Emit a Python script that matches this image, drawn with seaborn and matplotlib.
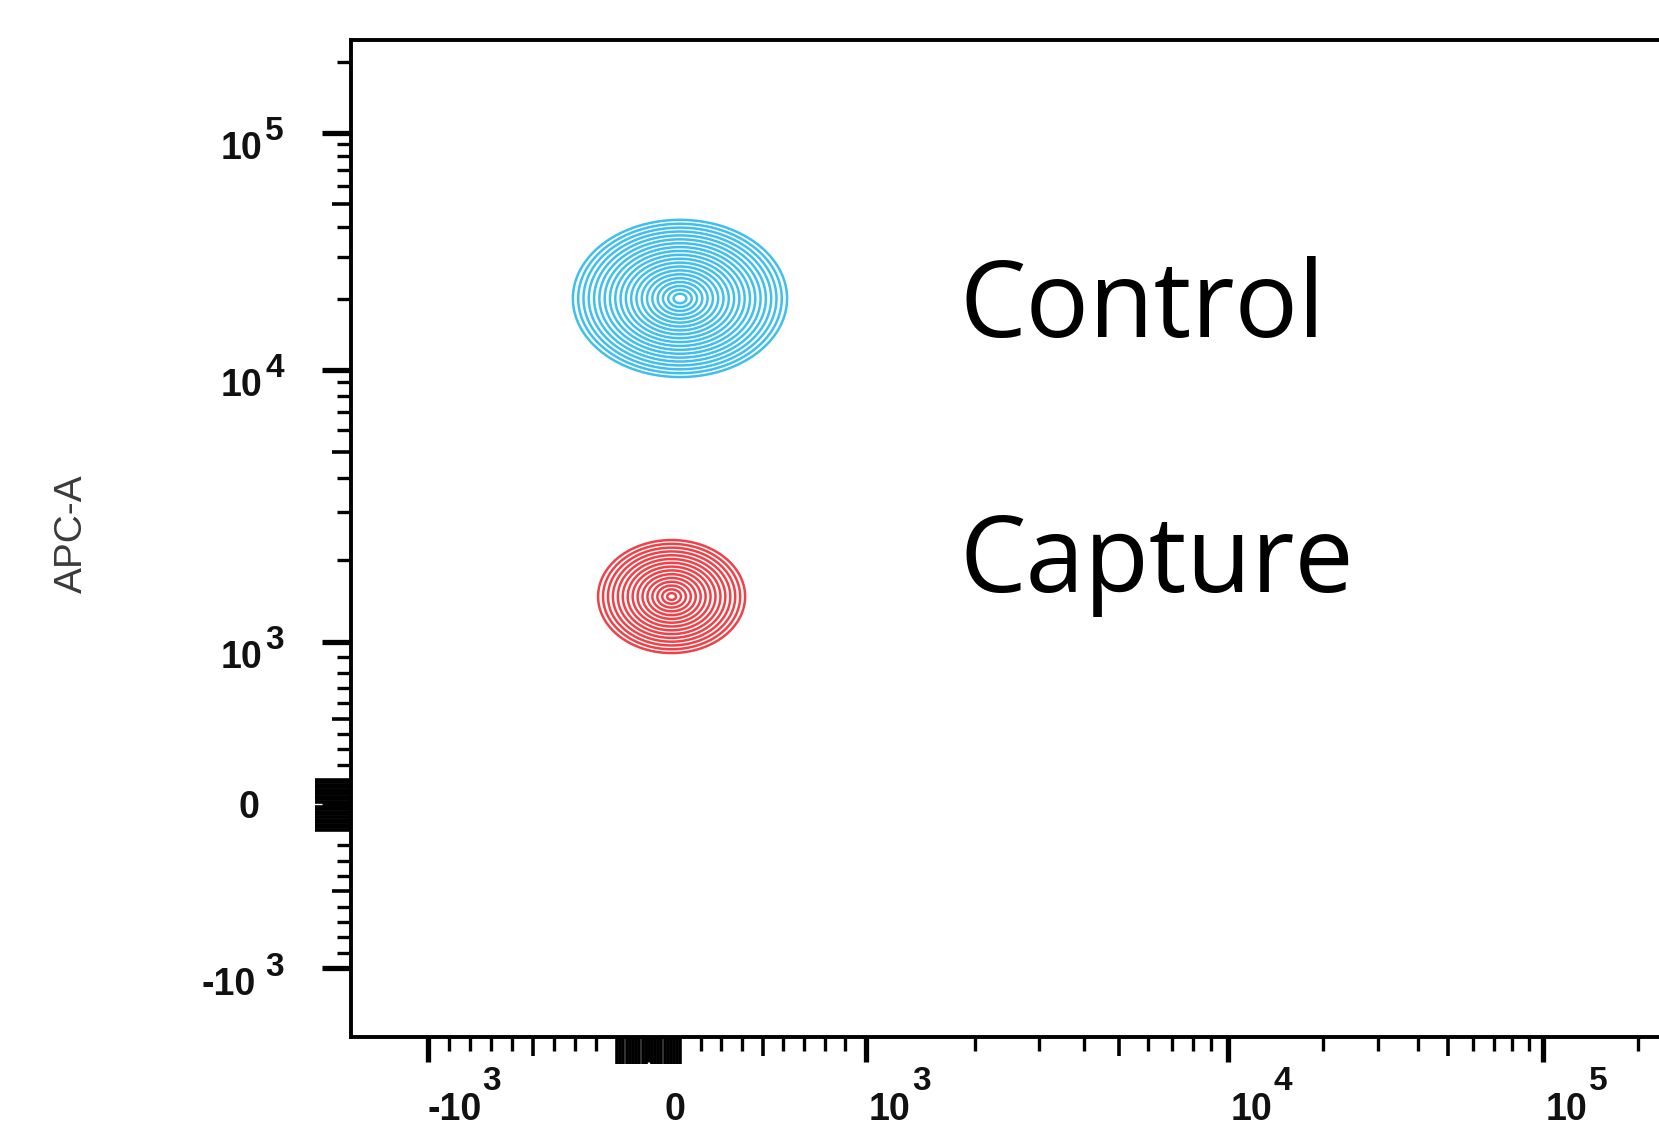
import numpy as np
import matplotlib
matplotlib.use("Agg")
import matplotlib.pyplot as plt
import matplotlib.transforms as mtransforms
import seaborn as sns
from matplotlib.ticker import FixedLocator, NullFormatter

# ---------------- data ----------------
populations = ["Control", "Capture"]
pop_x_range = [(-310, 618), (-190, 415)]        # x extent of outer contour
pop_y_range = [(9420, 43000), (928, 2370)]      # APC-A extent of outer contour
pop_colors = ["#40BFEC", "#EF4248"]
pop_n_levels = [20, 15]

x_major_values = [-1e3, 0, 1e3, 1e4, 1e5]
x_major_bases = ["-10", "0", "10", "10", "10"]
x_major_exps = ["3", "", "3", "4", "5"]
y_major_values = [-1e3, 0, 1e3, 1e4, 1e5]
y_major_bases = ["-10", "0", "10", "10", "10"]
y_major_exps = ["3", "", "3", "4", "5"]
y_label = "APC-A"

# ---------------- biexponential-like display scale ----------------
# piecewise: linear for |v| <= 1000 (slightly widened round zero), log beyond
ANCHOR_VALUES = np.array([-1e3, -100, 0, 100, 1e3, 1e4, 1e5])
X_ANCHOR_POS = np.array([428, 617, 649, 680, 866, 1228, 1543], float)   # fig px from left
Y_ANCHOR_POS = np.array([168, 306, 332, 356, 494, 766, 1003], float)    # fig px from bottom
LIN = 1000.0


def _u(v):
    v = np.asarray(v, float)
    a = np.abs(v)
    return np.where(a <= LIN, v / LIN,
                    np.sign(v) * (1 + np.log10(np.maximum(a, LIN) / LIN)))


def _v(u):
    u = np.asarray(u, float)
    a = np.abs(u)
    return np.where(a <= 1, u * LIN, np.sign(u) * LIN * 10 ** (np.maximum(a, 1) - 1))


ANCHOR_U = _u(ANCHOR_VALUES)


def _interp_ext(x, xp, fp):
    x = np.asarray(x, float)
    y = np.interp(x, xp, fp)
    lo_s = (fp[1] - fp[0]) / (xp[1] - xp[0])
    hi_s = (fp[-1] - fp[-2]) / (xp[-1] - xp[-2])
    y = np.where(x < xp[0], fp[0] + (x - xp[0]) * lo_s, y)
    y = np.where(x > xp[-1], fp[-1] + (x - xp[-1]) * hi_s, y)
    return y


def xf(v):
    return _interp_ext(_u(v), ANCHOR_U, X_ANCHOR_POS)


def xi(p):
    return _v(_interp_ext(p, X_ANCHOR_POS, ANCHOR_U))


def yf(v):
    return _interp_ext(_u(v), ANCHOR_U, Y_ANCHOR_POS)


def yi(p):
    return _v(_interp_ext(p, Y_ANCHOR_POS, ANCHOR_U))


# ---------------- style ----------------
sns.set_theme(style="white")
plt.rcParams["font.family"] = ["Liberation Sans", "DejaVu Sans"]

FW, FH = 1659, 1136
PT = 72 / 100  # points per pixel at dpi 100
fig = plt.figure(figsize=(FW / 100, FH / 100), dpi=100)
ax_left, ax_right, ax_bottom, ax_top = 351, 1709, 99, 1096
rect = [ax_left / FW, ax_bottom / FH, (ax_right - ax_left) / FW,
        (ax_top - ax_bottom) / FH]
ax = fig.add_axes(rect)
ax_mid = fig.add_axes(rect, zorder=3)   # overlay carrying the longer / medium ticks
for a in (ax, ax_mid):
    a.set_xscale("function", functions=(xf, xi))
    a.set_yscale("function", functions=(yf, yi))
    a.set_xlim(float(xi(ax_left)), float(xi(ax_right)))
    a.set_ylim(float(yi(ax_bottom)), float(yi(ax_top)))
ax.set_facecolor("white")
ax_mid.patch.set_visible(False)
for s in ax_mid.spines.values():
    s.set_visible(False)

# ---------------- contours ----------------
for name, xr, yr, col, n in zip(populations, pop_x_range, pop_y_range,
                                pop_colors, pop_n_levels):
    px0, px1 = xf(xr[0]), xf(xr[1])
    py0, py1 = yf(yr[0]), yf(yr[1])
    cx, cy = (px0 + px1) / 2, (py0 + py1) / 2
    hx, hy = (px1 - px0) / 2, (py1 - py0) / 2
    gx = np.linspace(cx - 1.4 * hx, cx + 1.4 * hx, 500)
    gy = np.linspace(cy - 1.4 * hy, cy + 1.4 * hy, 500)
    GX, GY = np.meshgrid(gx, gy)
    Z = ((GX - cx) / hx) ** 2 + ((GY - cy) / hy) ** 2
    levels = np.linspace(0.06, 1.0, n) ** 2
    ax.contour(xi(GX), yi(GY), Z, levels=levels, colors=col, linewidths=1.8)

# ---------------- ticks ----------------
lin_minor = [s * m for s in (-1, 1) for m in range(200, 1000, 100) if m != 500]
zero_ticks = [s * m for s in (-1, 1) for m in range(10, 110, 10)]
log_minor = [m * 10 ** k for k in (3, 4, 5) for m in range(2, 10) if m != 5]
mid_ticks = [-500, 500, 5e3, 5e4, 5e5]

for axis in (ax.xaxis, ax.yaxis):
    axis.set_major_locator(FixedLocator(x_major_values))
    axis.set_minor_locator(FixedLocator(sorted(lin_minor + log_minor)))
    axis.set_major_formatter(NullFormatter())
    axis.set_minor_formatter(NullFormatter())
for axis in (ax_mid.xaxis, ax_mid.yaxis):
    axis.set_major_locator(FixedLocator(sorted(zero_ticks)))
    axis.set_minor_locator(FixedLocator(mid_ticks))
    axis.set_major_formatter(NullFormatter())
    axis.set_minor_formatter(NullFormatter())

ax.tick_params(axis="x", which="major", direction="out", length=25 * PT,
               width=3.8, color="black", bottom=True)
ax.tick_params(axis="y", which="major", direction="out", length=29 * PT,
               width=3.8, color="black", left=True)
ax.tick_params(axis="both", which="minor", direction="out", length=14 * PT,
               width=2.4, color="black", bottom=True, left=True)
ax_mid.tick_params(axis="x", which="major", direction="out", length=27 * PT,
                   width=2.6, color="black", bottom=True)
ax_mid.tick_params(axis="y", which="major", direction="out", length=36 * PT,
                   width=2.6, color="black", left=True)
ax_mid.tick_params(axis="both", which="minor", direction="out", length=19 * PT,
                   width=2.6, color="black", bottom=True, left=True)

# decade labels: base text plus a nearly full-size exponent, as in the original
LAB = dict(fontsize=27, fontweight="bold", color="#111111", annotation_clip=False)
EXP = dict(fontsize=24, fontweight="bold", color="#111111", annotation_clip=False)
xtrans = mtransforms.blended_transform_factory(ax.transData, ax.transAxes)
x_dx = {"-10": -1, "0": 15, "10": 3}
for val, base, ex in zip(x_major_values, x_major_bases, x_major_exps):
    t = ax.annotate(base, xy=(val, 0), xycoords=xtrans,
                    xytext=(x_dx[base] * PT, -83 * PT), textcoords="offset points",
                    ha="left", va="baseline", **LAB)
    if ex:
        ax.annotate(ex, xy=(1, 1), xycoords=t, xytext=(1 * PT, 2 * PT),
                    textcoords="offset points", ha="left", va="baseline", **EXP)
ytrans = mtransforms.blended_transform_factory(ax.transAxes, ax.transData)
y_dy = {"-10": -27, "0": -14, "10": -26}
y_right = {"-10": 256, "0": 259, "10": 262}
for val, base, ex in zip(y_major_values, y_major_bases, y_major_exps):
    t = ax.annotate(base, xy=(0, val), xycoords=ytrans,
                    xytext=(-(ax_left - y_right[base]) * PT, y_dy[base] * PT),
                    textcoords="offset points", ha="right", va="baseline", **LAB)
    if ex:
        ax.annotate(ex, xy=(1, 1), xycoords=t,
                    xytext=((265 - y_right[base]) * PT, -9 * PT),
                    textcoords="offset points", ha="left", va="baseline", **EXP)

for side in ("left", "bottom", "top"):
    ax.spines[side].set_visible(True)
    ax.spines[side].set_linewidth(2.8)
    ax.spines[side].set_color("black")
ax.spines["right"].set_visible(False)

ax.set_ylabel(y_label, fontsize=28, color="#3a3a3a")
ax.yaxis.set_label_coords((72 - ax_left) / (ax_right - ax_left),
                          (FH - 534 - ax_bottom) / (ax_top - ax_bottom))
ax.yaxis.label.set_va("center")

# ---------------- population labels ----------------
label_baselines = [337, 592]
for name, base in zip(populations, label_baselines):
    fig.text(960 / FW, 1 - base / FH, name, fontsize=76,
             family=["Open Sans", "DejaVu Sans"], color="black",
             ha="left", va="baseline")

fig.savefig("out.png", dpi=100, facecolor="white")
